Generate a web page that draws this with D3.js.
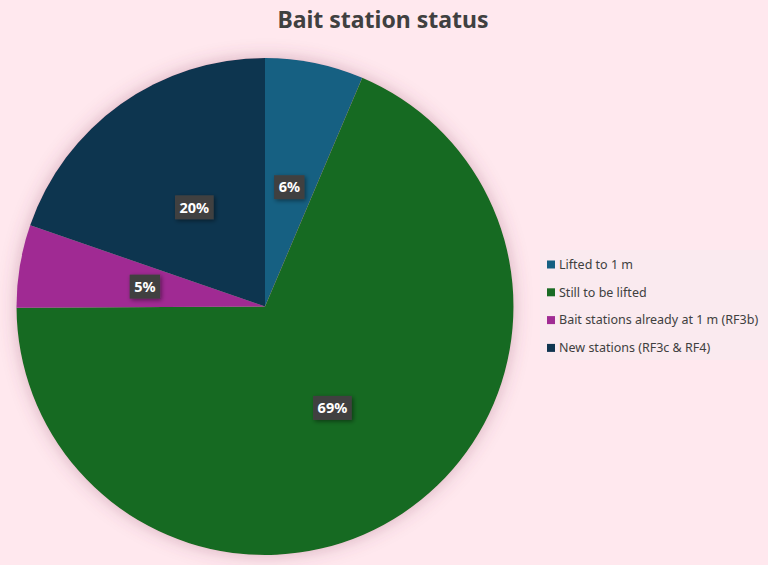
<!DOCTYPE html>
<html><head><meta charset="utf-8">
<script src="https://cdn.jsdelivr.net/npm/d3@7"></script>
<style>html,body{margin:0;padding:0;background:#FFE8EE;}svg{display:block;}</style>
</head><body>
<svg id="c" width="768" height="565"></svg>
<script>
const categories = ["Lifted to 1 m","Still to be lifted","Bait stations already at 1 m (RF3b)","New stations (RF3c & RF4)"];
const values = [6.4, 68.52, 5.38, 19.7];
const colors = ["#156082","#196B24","#A02B93","#0E3550"];
const title = "Bait station status";

const svg = d3.select("#c");
const W = 768, H = 565, cx = 265, cy = 306.5, R = 248.5;
svg.append("rect").attr("width",W).attr("height",H).attr("fill","#FFE8EE");

const defs = svg.append("defs");
const f = defs.append("filter").attr("id","glow").attr("x","-20%").attr("y","-20%").attr("width","140%").attr("height","140%");
f.append("feGaussianBlur").attr("in","SourceAlpha").attr("stdDeviation",9).attr("result","b");
f.append("feFlood").attr("flood-color","#8a4060").attr("flood-opacity",0.35).attr("result","c");
f.append("feComposite").attr("in","c").attr("in2","b").attr("operator","in").attr("result","s");
const m = f.append("feMerge"); m.append("feMergeNode").attr("in","s"); m.append("feMergeNode").attr("in","SourceGraphic");
const f2 = defs.append("filter").attr("id","lsh").attr("x","-40%").attr("y","-40%").attr("width","180%").attr("height","180%");
f2.append("feDropShadow").attr("dx",1.5).attr("dy",1.5).attr("stdDeviation",2).attr("flood-color","#000").attr("flood-opacity",0.45);

svg.append("text").attr("x",383).attr("y",28).attr("text-anchor","middle")
  .attr("font-family","'Noto Sans', sans-serif").attr("font-weight","bold").attr("font-size",23)
  .attr("fill","#404040").text(title);

const data = categories.map((c,i)=>({c, v:values[i], col:colors[i]}));
const total = d3.sum(values);
const pie = d3.pie().value(d=>d.v).sort(null);
const arcs = pie(data);
const arc = d3.arc().innerRadius(0).outerRadius(R);
const g = svg.append("g").attr("transform",`translate(${cx},${cy})`);
g.append("g").attr("filter","url(#glow)").selectAll("path").data(arcs).join("path")
  .attr("d",arc).attr("fill",d=>d.data.col);

const lblArc = d3.arc().innerRadius(R*0.49).outerRadius(R*0.49);
const fmt = d3.format(".0%");
const lg = g.selectAll("g.lbl").data(arcs).join("g").attr("class","lbl")
  .attr("transform",d=>`translate(${lblArc.centroid(d)})`);
lg.each(function(d){
  const s = d3.select(this);
  const t = fmt(d.data.v/total);
  const r = s.append("rect").attr("fill","#404040").attr("filter","url(#lsh)");
  const tx = s.append("text").attr("text-anchor","middle").attr("dy","0.36em")
    .attr("font-family","'Noto Sans', sans-serif").attr("font-weight","bold").attr("font-size",14.5)
    .attr("fill","#fff").text(t);
  const w = tx.node().getComputedTextLength()+9;
  r.attr("x",-w/2).attr("y",-12).attr("width",w).attr("height",24);
});

svg.append("rect").attr("x",540).attr("y",250).attr("width",228).attr("height",110).attr("fill","#FAEAEF");
const y0 = 264.5, dy = 27.8;
const leg = svg.selectAll("g.leg").data(data).join("g").attr("class","leg")
  .attr("transform",(d,i)=>`translate(547,${y0+i*dy})`);
leg.append("rect").attr("x",0).attr("y",-4).attr("width",8).attr("height",8).attr("fill",d=>d.col);
leg.append("text").attr("x",12).attr("dy","0.35em").attr("font-family","'Noto Sans', sans-serif")
  .attr("font-size",12.5).attr("fill","#404040").text(d=>d.c);
</script>
</body></html>
